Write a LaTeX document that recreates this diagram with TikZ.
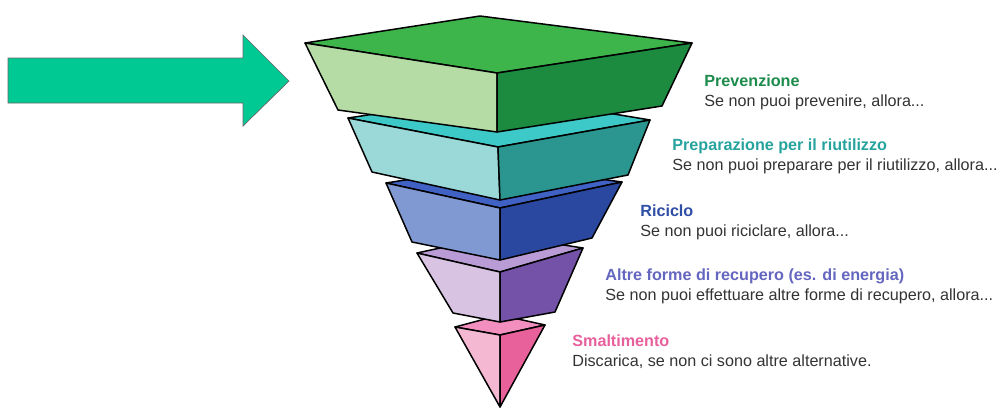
\documentclass[tikz,border=0pt]{standalone}
\usepackage{fontspec}
\setmainfont{Liberation Sans}
\usetikzlibrary{positioning}

\definecolor{arrowgreen}{HTML}{00C994}
\definecolor{greentop}{HTML}{3DB54A}
\definecolor{greenleft}{HTML}{B6DCA6}
\definecolor{greenright}{HTML}{1C8A3F}
\definecolor{tealtop}{HTML}{3EC9C9}
\definecolor{tealleft}{HTML}{9BD9D9}
\definecolor{tealright}{HTML}{2A968F}
\definecolor{bluetop}{HTML}{3F62C4}
\definecolor{blueleft}{HTML}{8099D2}
\definecolor{blueright}{HTML}{2B48A0}
\definecolor{purpletop}{HTML}{B99CD6}
\definecolor{purpleleft}{HTML}{D8C4E2}
\definecolor{purpleright}{HTML}{7452A8}
\definecolor{pinktop}{HTML}{F28FBF}
\definecolor{pinkleft}{HTML}{F5B8D2}
\definecolor{pinkright}{HTML}{E9619B}
\definecolor{txtprev}{HTML}{1D8B4B}
\definecolor{txtprep}{HTML}{27A39E}
\definecolor{txtrici}{HTML}{2F4EA6}
\definecolor{txtaltre}{HTML}{6466C0}
\definecolor{txtsmal}{HTML}{E8609B}
\definecolor{txtgray}{HTML}{333333}

\tikzset{
        face/.style={draw=black, line width=0.85pt, line join=round},
        levelname/.style={anchor=base west, inner sep=0pt, font=\fontsize{9.2}{11}\selectfont\bfseries},
        levelhint/.style={anchor=base west, inner sep=0pt, text=txtgray, font=\fontsize{9.2}{11}\selectfont},
        bigarrow/.style={fill=arrowgreen, draw=black!60, line width=0.4pt},
    }

\begin{document}
\begin{tikzpicture}[x=0.02cm, y=-0.02cm]

        \useasboundingbox (0,0) rectangle (999,410);

        % === ARROW ===
        \draw[bigarrow] (8,58) -- (243,58) -- (243,35) -- (289,81) -- (243,126) -- (243,103) -- (8,103) -- cycle;

        % === PYRAMID (drawn from the bottom up) ===
        % Smaltimento
        \filldraw[face, fill=pinktop] (455,327) -- (500,315) -- (545,325) -- (500,335) -- cycle;
        \filldraw[face, fill=pinkleft] (455,327) -- (500,335) -- (500,407) -- cycle;
        \filldraw[face, fill=pinkright] (500,335) -- (545,325) -- (500,407) -- cycle;

        % Altre forme di recupero
        \filldraw[face, fill=purpletop] (417,253) -- (500,235) -- (583,248) -- (500,272) -- cycle;
        \filldraw[face, fill=purpleleft] (417,253) -- (500,272) -- (500,322) -- (453,313) -- cycle;
        \filldraw[face, fill=purpleright] (500,272) -- (583,248) -- (555,312) -- (500,322) -- cycle;

        % Riciclo
        \filldraw[face, fill=bluetop] (386,183) -- (500,165) -- (622,182) -- (500,208) -- cycle;
        \filldraw[face, fill=blueleft] (386,183) -- (500,208) -- (500,260) -- (412,242) -- cycle;
        \filldraw[face, fill=blueright] (500,208) -- (622,182) -- (592,238) -- (500,260) -- cycle;

        % Preparazione per il riutilizzo
        \filldraw[face, fill=tealtop] (348,118) -- (500,95) -- (650,120) -- (498,147) -- cycle;
        \filldraw[face, fill=tealleft] (348,118) -- (498,147) -- (500,200) -- (372,172) -- cycle;
        \filldraw[face, fill=tealright] (498,147) -- (650,120) -- (628,175) -- (500,200) -- cycle;

        % Prevenzione
        \filldraw[face, fill=greentop] (305,43) -- (480,16) -- (692,43) -- (497,73) -- cycle;
        \filldraw[face, fill=greenleft] (305,43) -- (497,73) -- (497,132) -- (338,110) -- cycle;
        \filldraw[face, fill=greenright] (497,73) -- (692,43) -- (662,106) -- (497,132) -- cycle;

        % === LABELS ===
        \node[levelname, text=txtprev] (prev) at (704,86) {Prevenzione};
        \node[levelhint] (prevhint) at (704,106) {Se non puoi prevenire, allora...};

        \node[levelname, text=txtprep] (prep) at (672,150) {Preparazione per il riutilizzo};
        \node[levelhint] (prephint) at (672,170) {Se non puoi preparare per il riutilizzo, allora...};

        \node[levelname, text=txtrici] (rici) at (640,216) {Riciclo};
        \node[levelhint] (ricihint) at (640,236) {Se non puoi riciclare, allora...};

        \node[levelname, text=txtaltre] (altre) at (605,280) {Altre forme di recupero (es. di energia)};
        \node[levelhint] (altrehint) at (605,300) {Se non puoi effettuare altre forme di recupero, allora...};

        \node[levelname, text=txtsmal] (smal) at (572,346) {Smaltimento};
        \node[levelhint] (smalhint) at (572,366) {Discarica, se non ci sono altre alternative.};

    \end{tikzpicture}
\end{document}
